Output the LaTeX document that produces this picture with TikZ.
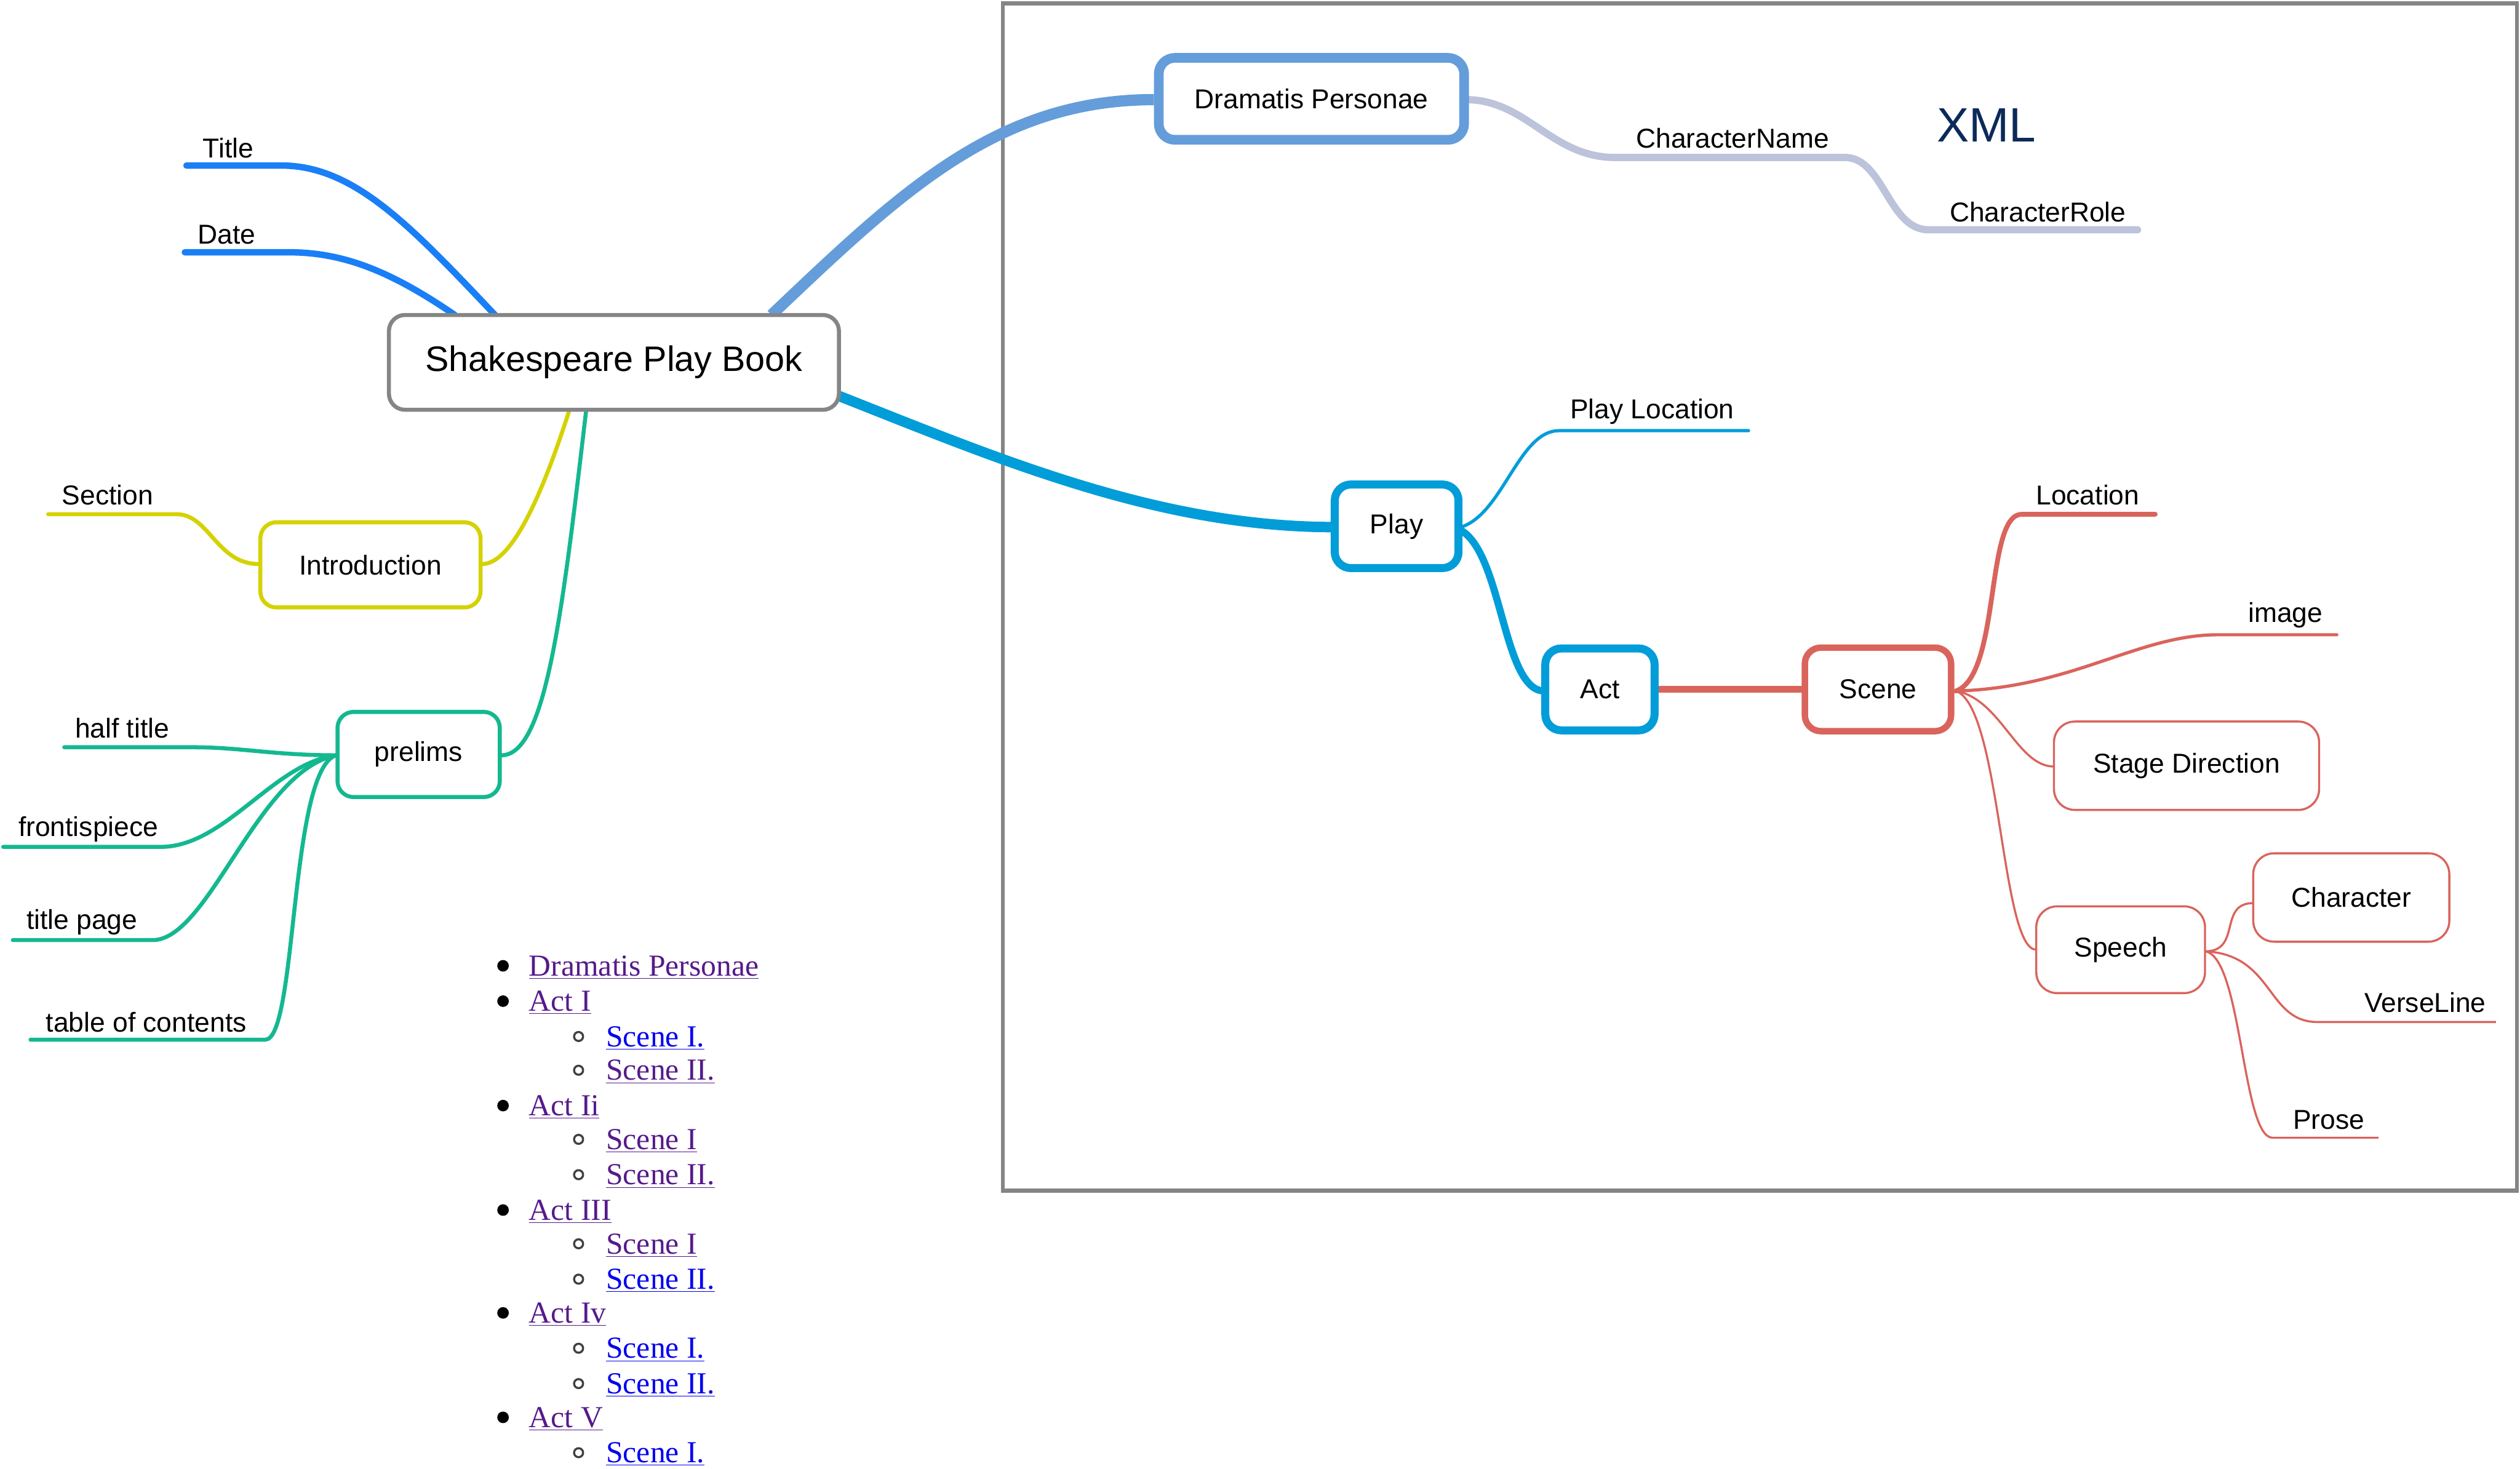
\documentclass[tikz,border=0pt]{standalone}
\usepackage{fontspec}
\setmainfont{Liberation Sans}
\newfontfamily\listfont{Liberation Serif}
\definecolor{cTitle}{HTML}{1A7FF6}
\definecolor{cDP}{HTML}{649DDA}
\definecolor{cChar}{HTML}{BCC3DA}
\definecolor{cPlay}{HTML}{009DD9}
\definecolor{cRed}{HTML}{D9645C}
\definecolor{cYel}{HTML}{D4D200}
\definecolor{cTeal}{HTML}{14B890}
\definecolor{cGray}{HTML}{858585}
\definecolor{cNavy}{HTML}{0B2A5A}
\definecolor{cVisit}{HTML}{551A8B}
\definecolor{cLink}{HTML}{0000EE}
\tikzset{
  lbl/.style={font=\fontsize{17}{20}\selectfont, inner sep=0pt},
  box/.style={rectangle, rounded corners=10pt, fill=white, inner sep=0pt, font=\fontsize{17}{20}\selectfont},
  conn/.style={line cap=round, line join=round},
  li/.style={anchor=west, inner sep=0pt, font=\listfont\fontsize{19}{22}\selectfont},
}
\begin{document}
\begin{tikzpicture}[x=1pt,y=-1pt]
\useasboundingbox (0,0) rectangle (1568,914);

% frame
\draw[cGray, line width=2.5pt] (624,2) rectangle (1566,741);

% ---------- connectors (drawn first) ----------
\coordinate (tEnd) at (116,103);
\coordinate (tBend) at (175,103);
\coordinate (dEnd) at (115,157);
\coordinate (dBend) at (180,157);
\coordinate (cT1) at (308,196);
\coordinate (cT2) at (283,196);
\coordinate (cT3) at (480,196);
\coordinate (cR) at (521,246);
\coordinate (cB1) at (355,253);
\coordinate (cB2) at (365,253);

\draw[conn, cTitle, line width=4pt] (tEnd) -- (tBend) .. controls (220,103) and (255,140) .. (cT1);
\draw[conn, cTitle, line width=4pt] (dEnd) -- (dBend) .. controls (215,157) and (245,170) .. (cT2);

% Dramatis Personae branch
\draw[cDP, line width=7pt] (cT3) .. controls (560,120) and (620,62) .. (718,62);
\coordinate (cnA) at (1005,98);
\coordinate (cnB) at (1148,98);
\coordinate (crA) at (1200,143);
\coordinate (crEnd) at (1330,143);
\draw[conn, cChar, line width=4.5pt] (912,62) .. controls (950,62) and (965,98) .. (cnA) -- (cnB)
   .. controls (1172,98) and (1175,143) .. (crA) -- (crEnd);

% Play branch
\draw[cPlay, line width=6.5pt] (cR) .. controls (620,285) and (720,328) .. (830,328);
\coordinate (plA) at (970,268);
\coordinate (plEnd) at (1088,268);
\draw[conn, cPlay, line width=2pt] (909,328) .. controls (935,320) and (945,268) .. (plA) -- (plEnd);
\draw[cPlay, line width=4.5pt] (909,330) .. controls (935,345) and (935,430) .. (961,430);
\draw[cRed, line width=4pt] (1030,429) -- (1123,429);

% Scene branches
\coordinate (sc) at (1217,430);
\coordinate (locA) at (1258,320);
\coordinate (locEnd) at (1341,320);
\coordinate (imA) at (1380,395);
\coordinate (imEnd) at (1454,395);
\draw[conn, cRed, line width=3pt] (sc) .. controls (1245,420) and (1235,320) .. (locA) -- (locEnd);
\draw[conn, cRed, line width=2pt] (sc) .. controls (1290,428) and (1330,395) .. (imA) -- (imEnd);
\draw[cRed, line width=1.3pt] (sc) .. controls (1245,435) and (1255,477) .. (1278,477);
\draw[cRed, line width=1.3pt] (sc) .. controls (1245,440) and (1245,591) .. (1267,591);
\coordinate (sp) at (1372,592);
\coordinate (vlA) at (1442,636);
\coordinate (vlEnd) at (1553,636);
\coordinate (prA) at (1414,708);
\coordinate (prEnd) at (1480,708);
\draw[cRed, line width=1.3pt] (sp) .. controls (1395,592) and (1380,562) .. (1402,562);
\draw[cRed, line width=1.3pt] (sp) .. controls (1415,594) and (1410,636) .. (vlA) -- (vlEnd);
\draw[cRed, line width=1.3pt] (sp) .. controls (1395,595) and (1395,708) .. (prA) -- (prEnd);

% Left branches
\draw[cYel, line width=2.5pt] (cB1) .. controls (340,300) and (320,351) .. (300,351);
\coordinate (secA) at (110,320);
\coordinate (secEnd) at (30,320);
\draw[conn, cYel, line width=2.5pt] (161,351) .. controls (135,351) and (130,320) .. (secA) -- (secEnd);
\draw[cTeal, line width=2.5pt] (cB2) .. controls (350,380) and (340,470) .. (312,470);
\coordinate (pl) at (209,470);
\coordinate (htA) at (120,465);  \coordinate (htEnd) at (40,465);
\coordinate (frA) at (100,527);  \coordinate (frEnd) at (2,527);
\coordinate (tpA) at (95,585);   \coordinate (tpEnd) at (8,585);
\coordinate (tcA) at (165,647);  \coordinate (tcEnd) at (19,647);
\draw[conn, cTeal, line width=2.5pt] (pl) .. controls (170,470) and (150,465) .. (htA) -- (htEnd);
\draw[conn, cTeal, line width=2.5pt] (pl) .. controls (170,475) and (140,527) .. (frA) -- (frEnd);
\draw[conn, cTeal, line width=2.5pt] (pl) .. controls (160,480) and (130,585) .. (tpA) -- (tpEnd);
\draw[conn, cTeal, line width=2.5pt] (pl) .. controls (180,480) and (185,647) .. (tcA) -- (tcEnd);

% ---------- nodes ----------
\node[box, draw=cGray, line width=2.5pt, minimum width=280pt, minimum height=59pt,
      font=\fontsize{22}{26}\selectfont] (central) at (382,225.5) {Shakespeare Play Book};
\node[box, draw=cDP, line width=6pt, minimum width=190pt, minimum height=51pt] (dp) at (816,61.5) {Dramatis Personae};
\node[box, draw=cPlay, line width=5pt, minimum width=77pt, minimum height=52pt] (play) at (869,327.5) {Play};
\node[box, draw=cPlay, line width=5pt, minimum width=68pt, minimum height=51pt] (act) at (995.5,429) {Act};
\node[box, draw=cRed, line width=4pt, minimum width=91pt, minimum height=52pt] (scene) at (1168.5,429) {Scene};
\node[box, draw=cRed, line width=1.3pt, rounded corners=13pt, minimum width=165pt, minimum height=55pt] (stage) at (1360.5,476.5) {Stage Direction};
\node[box, draw=cRed, line width=1.3pt, rounded corners=13pt, minimum width=105pt, minimum height=54pt] (speech) at (1319.5,591) {Speech};
\node[box, draw=cRed, line width=1.3pt, rounded corners=13pt, minimum width=122pt, minimum height=55pt] (character) at (1463,558.5) {Character};
\node[box, draw=cYel, line width=2.5pt, minimum width=137pt, minimum height=53pt] (intro) at (230.5,351.5) {Introduction};
\node[box, draw=cTeal, line width=2.5pt, minimum width=101pt, minimum height=53pt] (prelims) at (260.5,469.5) {prelims};

% labels
\node[lbl] (lTitle) at (142,92) {Title};
\node[lbl] (lDate) at (141,146) {Date};
\node[lbl] (lSection) at (67,308) {Section};
\node[lbl] (lHalf) at (76,453) {half title};
\node[lbl] (lFront) at (55,516) {frontispiece};
\node[lbl] (lTP) at (51,574) {title page};
\node[lbl] (lTOC) at (91,636) {table of contents};
\node[lbl] (lCN) at (1078,86) {CharacterName};
\node[lbl] (lCR) at (1268,132) {CharacterRole};
\node[lbl] (lPL) at (1028,256) {Play Location};
\node[lbl] (lLoc) at (1299,308) {Location};
\node[lbl] (lImg) at (1422,383) {image};
\node[lbl] (lVL) at (1509,624) {VerseLine};
\node[lbl] (lProse) at (1449,697) {Prose};
\node[lbl, text=cNavy, font=\fontsize{30}{34}\selectfont] (xml) at (1236,78) {XML};

% ---------- list ----------
\foreach \y/\t/\c in {600/Dramatis Personae/cVisit, 622/Act I/cVisit, 687/Act Ii/cVisit,
                      752/Act III/cVisit, 816/Act Iv/cVisit, 881/Act V/cVisit} {
  \fill[black] (313,\y+1) circle (3.6pt);
  \node[li, text=\c] at (329,\y+2) {\underline{\t}};
}
\foreach \y/\t/\c in {644/Scene I./cLink, 665/Scene II./cVisit, 708/Scene I/cVisit, 730/Scene II./cVisit,
                      773/Scene I/cVisit, 795/Scene II./cLink, 838/Scene I./cLink, 860/Scene II./cLink,
                      903/Scene I./cLink} {
  \draw[black!75, line width=1.3pt] (360,\y+1) circle (2.8pt);
  \node[li, text=\c] at (377,\y+2) {\underline{\t}};
}
\end{tikzpicture}
\end{document}
